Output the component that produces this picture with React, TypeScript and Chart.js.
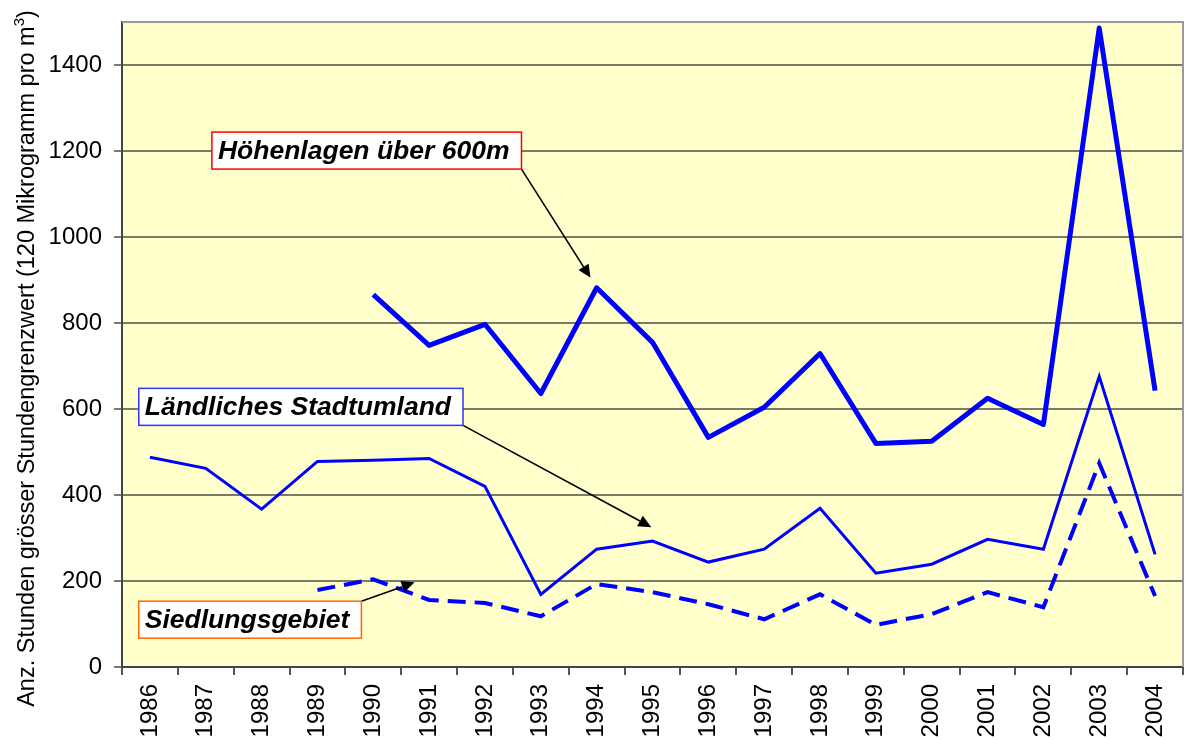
import React, { useEffect, useRef } from "react";
import { Chart, registerables } from "chart.js";

Chart.register(...registerables);

const years = ["1986","1987","1988","1989","1990","1991","1992","1993","1994","1995","1996","1997","1998","1999","2000","2001","2002","2003","2004"];
const hoehenlagen = [null,null,null,null,866,748,797,636,882,755,534,604,729,520,525,625,564,1486,643];
const laendlich = [488,462,367,478,481,485,420,169,274,293,244,274,369,218,239,297,274,676,262];
const siedlung = [null,null,null,179,204,156,149,118,193,174,146,111,169,98,123,174,139,474,165];
const yTicks = [0,200,400,600,800,1000,1200,1400];

const seriesNames = ["Höhenlagen über 600m", "Ländliches Stadtumland", "Siedlungsgebiet"];
const yTitle = "Anz. Stunden grösser Stundengrenzwert (120 Mikrogramm pro m";
const yTitleSup = "3";
const yTitleEnd = ")";

// callout boxes: [boxLeftIndex, boxTopValue], arrow target [index, value], corner of arrow start
const calloutBox = [[1.11, 1244], [-0.2, 648], [-0.2, 153]];
const calloutTarget = [[7.89, 905], [8.98, 325], [4.74, 197]];
const calloutCorner = ["br", "br", "tr"];
const calloutBorder = ["#FF0000", "#3333FF", "#FF6600"];

const FONT = "'Liberation Sans', Arial, sans-serif";

const calloutPlugin = {
  id: "callouts",
  beforeDraw(chart: any) {
    const { ctx, chartArea: a } = chart;
    ctx.save();
    ctx.fillStyle = "#FFFFCC";
    ctx.fillRect(a.left, a.top, a.right - a.left, a.bottom - a.top);
    ctx.restore();
  },
  afterDraw(chart: any) {
    const { ctx, chartArea: a } = chart;
    ctx.save();
    ctx.fillStyle = "#000";
    ctx.font = `23.5px ${FONT}`;
    const w1 = ctx.measureText(yTitle).width;
    const w3 = ctx.measureText(yTitleEnd).width;
    ctx.font = `15px ${FONT}`;
    const w2 = ctx.measureText(yTitleSup).width;
    const total = w1 + w2 + w3;
    const cy = (a.top + a.bottom) / 2 + 14;
    ctx.translate(28, cy);
    ctx.rotate(-Math.PI / 2);
    ctx.textBaseline = "middle";
    ctx.textAlign = "left";
    let x = -total / 2;
    ctx.font = `23.5px ${FONT}`;
    ctx.fillText(yTitle, x, 0);
    x += w1;
    ctx.font = `15px ${FONT}`;
    ctx.fillText(yTitleSup, x, -8);
    x += w2;
    ctx.font = `23.5px ${FONT}`;
    ctx.fillText(yTitleEnd, x, 0);
    ctx.restore();
  },
  afterDatasetsDraw(chart: any) {
    const { ctx, chartArea: a, scales } = chart;
    const xs = scales.x, ys = scales.y;
    ctx.save();
    ctx.strokeStyle = "#999999";
    ctx.lineWidth = 2;
    ctx.beginPath();
    ctx.moveTo(a.left, a.top);
    ctx.lineTo(a.right, a.top);
    ctx.lineTo(a.right, a.bottom);
    ctx.stroke();

    ctx.font = `italic bold 26.5px ${FONT}`;
    seriesNames.forEach((name, i) => {
      const bx = xs.getPixelForValue(calloutBox[i][0]);
      const by = ys.getPixelForValue(calloutBox[i][1]);
      const w = ctx.measureText(name).width + 18;
      const h = 37;
      const sx = bx + w;
      const sy = calloutCorner[i] === "br" ? by + h : by;
      const tx = xs.getPixelForValue(calloutTarget[i][0]);
      const ty = ys.getPixelForValue(calloutTarget[i][1]);
      const ang = Math.atan2(ty - sy, tx - sx);
      const hl = 13, hw = 6;
      const bxh = tx - hl * Math.cos(ang), byh = ty - hl * Math.sin(ang);
      ctx.strokeStyle = "#000";
      ctx.lineWidth = 1.6;
      ctx.beginPath();
      ctx.moveTo(sx, sy);
      ctx.lineTo(bxh, byh);
      ctx.stroke();
      ctx.fillStyle = "#000";
      ctx.beginPath();
      ctx.moveTo(tx, ty);
      ctx.lineTo(bxh + hw * Math.sin(ang), byh - hw * Math.cos(ang));
      ctx.lineTo(bxh - hw * Math.sin(ang), byh + hw * Math.cos(ang));
      ctx.closePath();
      ctx.fill();
      ctx.fillStyle = "#FFFFFF";
      ctx.fillRect(bx, by, w, h);
      ctx.strokeStyle = calloutBorder[i];
      ctx.lineWidth = 1.5;
      ctx.strokeRect(bx, by, w, h);
      ctx.fillStyle = "#000";
      ctx.textBaseline = "middle";
      ctx.textAlign = "left";
      ctx.fillText(name, bx + 6, by + h / 2 + 1);
    });
    ctx.restore();
  },
};

export default function App() {
  const ref = useRef<HTMLCanvasElement>(null);
  useEffect(() => {
    if (!ref.current) return;
    const chart = new Chart(ref.current, {
      type: "line",
      data: {
        labels: years,
        datasets: [
          { label: seriesNames[0], data: hoehenlagen, borderColor: "#0000FF", borderWidth: 5, pointRadius: 0, tension: 0, borderJoinStyle: "round" },
          { label: seriesNames[1], data: laendlich, borderColor: "#0000FF", borderWidth: 3, pointRadius: 0, tension: 0 },
          { label: seriesNames[2], data: siedlung, borderColor: "#0000FF", borderWidth: 4, pointRadius: 0, tension: 0, borderDash: [18, 9] },
        ],
      },
      options: {
        animation: false,
        responsive: true,
        maintainAspectRatio: false,
        layout: { padding: { top: 22, right: 8, left: 0, bottom: 0 } },
        plugins: { legend: { display: false }, tooltip: { enabled: false } },
        scales: {
          x: {
            type: "category",
            offset: true,
            afterFit: (s: any) => { s.height = 73; s.paddingLeft = 0; s.paddingRight = 0; },
            grid: { drawOnChartArea: false, drawTicks: true, tickLength: 8, color: "#555555", lineWidth: 2, offset: true },
            border: { color: "#444444", width: 2 },
            ticks: { minRotation: 90, maxRotation: 90, autoSkip: false, padding: 9, color: "#000", font: { family: FONT, size: 24 } },
          },
          y: {
            min: 0,
            max: 1500,
            afterFit: (s: any) => { s.width = 122; s.paddingTop = 0; s.paddingBottom = 0; },
            afterBuildTicks: (s: any) => { s.ticks = yTicks.map((v) => ({ value: v })); },
            grid: { color: "#7a7a66", lineWidth: 2, drawTicks: true, tickLength: 8 },
            border: { color: "#444444", width: 2 },
            ticks: { padding: 12, color: "#000", font: { family: FONT, size: 24 }, callback: (v: any) => String(v) },
            title: { display: false },
          },
        },
      },
      plugins: [calloutPlugin],
    });
    return () => chart.destroy();
  }, []);
  return (
    <div style={{ position: "fixed", left: 0, top: 0, width: 1191, height: 740, background: "#fff" }}>
      <canvas ref={ref} />
    </div>
  );
}
